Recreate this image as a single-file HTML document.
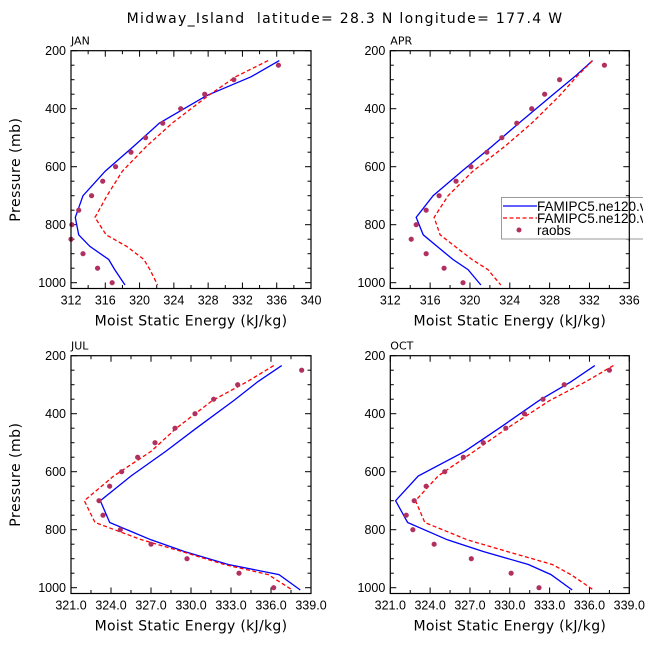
<!DOCTYPE html>
<html><head><meta charset="utf-8"><style>
html,body{margin:0;padding:0;background:#fff;}
svg{display:block;font-family:"Liberation Sans","DejaVu Sans",sans-serif;}
.dv{font-family:"DejaVu Sans","Liberation Sans",sans-serif;}
</style></head><body>
<svg id="chart" width="648" height="649" viewBox="0 0 648 649" xmlns="http://www.w3.org/2000/svg">
<text class="dv" x="345" y="23" text-anchor="middle" font-size="14" letter-spacing="1.3" xml:space="preserve" style="white-space:pre">Midway_Island  latitude= 28.3 N longitude= 177.4 W</text>
<g id="panels"></g>
<clipPath id="legclip"><rect x="0" y="0" width="643" height="649"/></clipPath>
<g clip-path="url(#legclip)">
<rect x="501.5" y="197.5" width="160" height="41.5" fill="#fff" stroke="#999" stroke-width="1"/>
<line x1="503" y1="206" x2="537" y2="206" stroke="#0000ff" stroke-width="1.3"/>
<text x="537" y="211" font-size="13.5">FAMIPC5.ne120.v</text>
<line x1="503" y1="218" x2="537" y2="218" stroke="#ff0000" stroke-width="1.3" stroke-dasharray="4,2.5"/>
<text x="537" y="223" font-size="13.5">FAMIPC5.ne120.v</text>
<circle cx="519" cy="230" r="2.5" fill="#b03060"/>
<text x="537" y="235" font-size="13.5">raobs</text>
</g>
<line x1="629.3" y1="195" x2="629.3" y2="241" stroke="#000" stroke-width="1.2"/>
</svg>
<script>
const modelP = [234, 290, 355, 450, 530, 615, 700, 775, 835, 875, 920, 955, 1008];
const obsP = [250, 300, 350, 400, 450, 500, 550, 600, 650, 700, 750, 800, 850, 900, 950, 1000];
const panelNames = ["JAN", "APR", "JUL", "OCT"];
const janBlue = [336.3, 333.0, 327.8, 322.3, 319.3, 316.0, 313.4, 312.5, 312.9, 314.2, 316.4, 317.1, 318.3];
const janRed = [335.0, 331.2, 328.0, 323.8, 320.8, 318.0, 316.2, 314.8, 316.1, 318.5, 320.5, 321.2, 322.1];
const janObs = [336.2, 331.0, 327.6, 324.8, 322.7, 320.7, 319.0, 317.2, 315.7, 314.4, 312.9, 312.1, 312.0, 313.4, 315.1, 316.8];
const aprBlue = [332.3, 330.5, 328.2, 324.9, 322.2, 319.2, 316.3, 314.6, 315.3, 316.7, 318.3, 319.8, 321.1];
const aprRed = [332.3, 330.7, 329.0, 326.2, 323.5, 320.3, 317.8, 316.4, 317.0, 318.5, 320.2, 321.8, 323.1];
const aprObs = [333.5, 329.0, 327.5, 326.2, 324.7, 323.2, 321.7, 320.1, 318.6, 316.9, 315.6, 314.6, 314.1, 315.6, 317.4, 319.3];
const julBlue = [336.8, 335.0, 333.2, 330.4, 328.1, 325.5, 323.2, 323.9, 327.0, 329.5, 332.8, 336.6, 338.2];
const julRed = [336.2, 334.2, 331.6, 328.9, 327.0, 324.2, 322.0, 322.8, 326.3, 329.3, 332.5, 335.8, 337.6];
const julObs = [338.3, 333.5, 331.7, 330.3, 328.8, 327.3, 326.0, 324.8, 323.9, 323.1, 323.4, 324.7, 327.0, 329.7, 333.6, 336.2];
const octBlue = [336.4, 334.6, 332.2, 329.2, 326.6, 323.1, 321.4, 322.3, 325.3, 328.0, 331.4, 333.1, 334.7];
const octRed = [337.8, 335.7, 333.0, 329.8, 327.3, 324.6, 322.9, 323.6, 326.8, 329.8, 333.2, 334.6, 336.3];
const octObs = [337.5, 334.1, 332.5, 331.1, 329.7, 328.0, 326.5, 325.1, 323.7, 322.8, 322.2, 322.7, 324.3, 327.1, 330.1, 332.2];
const janTicks = [312, 316, 320, 324, 328, 332, 336, 340];
const aprTicks = [312, 316, 320, 324, 328, 332, 336];
const julTicks = [321, 324, 327, 330, 333, 336, 339];
const pTicks = [200, 400, 600, 800, 1000];

const NS = "http://www.w3.org/2000/svg";
const root = document.getElementById("panels");
function mk(tag, attrs, parent) {
  const e = document.createElementNS(NS, tag);
  for (const k in attrs) e.setAttribute(k, attrs[k]);
  parent.appendChild(e);
  return e;
}
const panels = [
  {name: panelNames[0], key: "jan", L: 71, R: 311, T: 50.7, xmin: 312, xmax: 340, step: 2, ticks: janTicks, dec: 0, blue: janBlue, red: janRed, obs: janObs, ylab: true},
  {name: panelNames[1], key: "apr", L: 390.3, R: 629.3, T: 50.7, xmin: 312, xmax: 336, step: 2, ticks: aprTicks, dec: 0, blue: aprBlue, red: aprRed, obs: aprObs, ylab: false},
  {name: panelNames[2], key: "jul", L: 71, R: 311, T: 355.7, xmin: 321, xmax: 339, step: 1.5, ticks: julTicks, dec: 1, blue: julBlue, red: julRed, obs: julObs, ylab: true},
  {name: panelNames[3], key: "oct", L: 390.3, R: 629.3, T: 355.7, xmin: 321, xmax: 339, step: 1.5, ticks: julTicks, dec: 1, blue: octBlue, red: octRed, obs: octObs, ylab: false}
];
panels.forEach(pn => {
  const g = mk("g", {}, root);
  
  
  const ys = 232 / 800;
  const yOf = p => pn.T + (p - 200) * ys;
  const xOf = v => pn.L + (v - pn.xmin) / (pn.xmax - pn.xmin) * (pn.R - pn.L);
  const B = yOf(1020);
  const tl = mk("text", {x: pn.L, y: pn.T - 6, "font-size": 11, "class": "dv"}, g);
  tl.textContent = pn.name;
  
  
  for (let p = 200; p <= 1000; p += 50) {
    const major = p % 200 === 0;
    const len = major ? 6 : 3.5;
    const y = yOf(p);
    const t1 = mk("line", {x1: pn.L, x2: pn.L + len, y1: y, y2: y, stroke: "#000", "stroke-width": 1}, g);
    
    
    const t2 = mk("line", {x1: pn.R, x2: pn.R - len, y1: y, y2: y, stroke: "#000", "stroke-width": 1}, g);
    
    
  }
  pTicks.forEach(p => {
    const t = mk("text", {x: pn.L - 5, y: yOf(p) + 4.5, "text-anchor": "end", "font-size": 12.5}, g);
    t.textContent = p;
    
    
  });
  for (let v = pn.xmin; v <= pn.xmax + 1e-6; v += pn.step) {
    const idx = Math.round((v - pn.xmin) / pn.step);
    const major = idx % 2 === 0;
    const len = major ? 6 : 3.5;
    const x = xOf(v);
    const t1 = mk("line", {x1: x, x2: x, y1: B, y2: B - len, stroke: "#000", "stroke-width": 1}, g);
    
    
    const t2 = mk("line", {x1: x, x2: x, y1: pn.T, y2: pn.T + len, stroke: "#000", "stroke-width": 1}, g);
    
    
  }
  pn.ticks.forEach(v => {
    const t = mk("text", {x: xOf(v), y: B + 16, "text-anchor": "middle", "font-size": 12.5}, g);
    t.textContent = v.toFixed(pn.dec);
    
    
  });
  const xl = mk("text", {x: (pn.L + pn.R) / 2, y: B + 37, "text-anchor": "middle", "font-size": 14, "class": "dv", "letter-spacing": 0.3}, g);
  xl.textContent = "Moist Static Energy (kJ/kg)";
  
  
  if (pn.ylab) {
    const cy = (pn.T + B) / 2;
    const yl = mk("text", {x: 0, y: 0, transform: "translate(20," + cy + ") rotate(-90)", "text-anchor": "middle", "font-size": 14, "class": "dv", "letter-spacing": 0.5}, g);
    yl.textContent = "Pressure (mb)";
    
    
  }
  const cp = "clip-" + pn.key;
  const cl = mk("clipPath", {id: cp}, g);
  mk("rect", {x: pn.L, y: pn.T, width: pn.R - pn.L, height: B - pn.T}, cl);
  const ptsB = modelP.map((p, i) => xOf(pn.blue[i]).toFixed(1) + "," + yOf(p).toFixed(1)).join(" ");
  const lb = mk("polyline", {points: ptsB, fill: "none", stroke: "#0000ff", "stroke-width": 1.3, "clip-path": "url(#" + cp + ")"}, g);
  
  
  const ptsR = modelP.map((p, i) => xOf(pn.red[i]).toFixed(1) + "," + yOf(p).toFixed(1)).join(" ");
  const lr = mk("polyline", {points: ptsR, fill: "none", stroke: "#ff0000", "stroke-width": 1.3, "stroke-dasharray": "4,2.5", "clip-path": "url(#" + cp + ")"}, g);
  
  
  obsP.forEach((p, i) => {
    const c = mk("circle", {cx: xOf(pn.obs[i]), cy: yOf(p), r: 2.6, fill: "#b03060"}, g);
    
    
  });
  const fr = mk("rect", {x: pn.L, y: pn.T, width: pn.R - pn.L, height: B - pn.T, fill: "none", stroke: "#000", "stroke-width": 1.2}, g);
  
  
});
</script>
</body></html>
